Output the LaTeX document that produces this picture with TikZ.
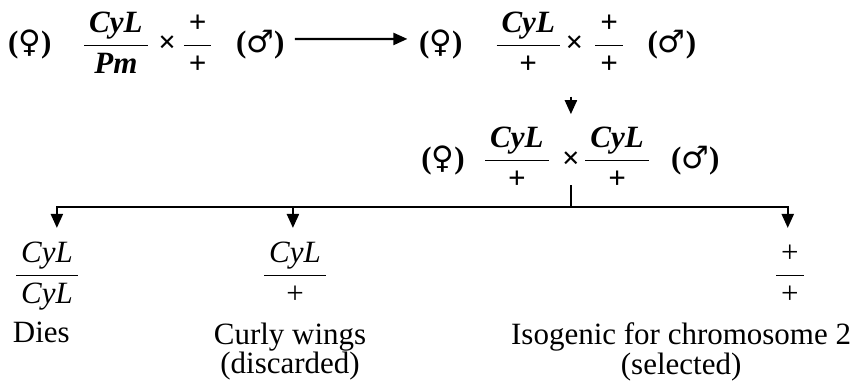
\documentclass[tikz,border=0pt]{standalone}
\usepackage{amsmath}
\usepackage{fontspec}
\setmainfont{Liberation Serif}
\newfontfamily\sexsym{DejaVu Sans}
\usetikzlibrary{arrows.meta}

\newcommand{\bodysize}{\fontsize{12.4}{12}\selectfont}
\newcommand{\geno}[2]{$\genfrac{}{}{0.7pt}{0}{\,\mbox{#1}\,}{\,\mbox{#2}\,}$}
\newcommand{\fem}{({\sexsym\mdseries ♀})}
\newcommand{\male}{({\sexsym\mdseries ♂})}

\tikzset{
  piece/.style={anchor=base,inner sep=1pt,font=\bodysize},
  parent/.style={piece,font=\bodysize\bfseries},
  drop/.style={-{Triangle[length=5.6pt,width=4.8pt]},line width=0.9pt},
  caption/.style={anchor=north,align=center,inner sep=1pt,font=\bodysize},
}

\begin{document}
\begin{tikzpicture}
  \useasboundingbox (0,0) rectangle (12.04,-5.40);

  % P cross, its F1 cross and the sib cross of the F1
  \node[parent] (fem1)   at (0.42,-0.745) {\fem};
  \node[parent] (gen1a)  at (1.63,-0.745) {\geno{\textit{CyL}}{\textit{Pm}}};
  \node[parent] (cross1) at (2.35,-0.745) {×};
  \node[parent] (gen1b)  at (2.78,-0.745) {\geno{+}{+}};
  \node[parent] (male1)  at (3.66,-0.745) {\male};

  \node[parent] (fem2)   at (6.20,-0.745) {\fem};
  \node[parent] (gen2a)  at (7.43,-0.745) {\geno{\textit{CyL}}{+}};
  \node[parent] (cross2) at (8.08,-0.745) {×};
  \node[parent] (gen2b)  at (8.57,-0.745) {\geno{+}{+}};
  \node[parent] (male2)  at (9.45,-0.745) {\male};

  \node[parent] (fem3)   at (6.23,-2.363) {\fem};
  \node[parent] (gen3a)  at (7.27,-2.363) {\geno{\textit{CyL}}{+}};
  \node[parent] (cross3) at (8.03,-2.363) {×};
  \node[parent] (gen3b)  at (8.68,-2.363) {\geno{\textit{CyL}}{+}};
  \node[parent] (male3)  at (9.78,-2.363) {\male};

  % Offspring of the sib cross
  \node[piece] (lethal) at (0.66,-3.98) {\geno{\textit{CyL}}{\textit{CyL}}};
  \node[piece] (curly)  at (4.15,-3.98) {\geno{\textit{CyL}}{+}};
  \node[piece] (iso)    at (11.11,-3.98) {\geno{+}{+}};

  \node[caption,anchor=base west] (dies) at (0.14,-4.824) {Dies};
  \node[caption] (discard) at (4.08,-4.494) {Curly wings\\(discarded)};
  \node[caption] (select)  at (9.58,-4.494) {Isogenic for chromosome 2\\(selected)};

  \coordinate (split) at (8.03,-2.911);
  \coordinate (tips)  at (0,-3.206);

  \draw[drop,shorten <=3pt,shorten >=3.5pt]
    ([yshift=2.4pt]male1.east) -- ([yshift=2.4pt]fem2.west);
  \draw[drop,shorten <=8pt,shorten >=4pt]
    (cross3 |- gen2a.south) -- (cross3 |- gen3a.north);

  % The single line from the sib cross splits to the three classes
  \draw[line width=0.9pt,shorten <=5.8pt] (cross3.south) -- (split);
  \draw[drop] (split) -| ([xshift=0.14cm]lethal.north |- tips);
  \draw[drop] (split) -| ([xshift=-0.03cm]curly.north |- tips);
  \draw[drop] (split) -| ([xshift=-0.03cm]iso.north |- tips);
\end{tikzpicture}
\end{document}
